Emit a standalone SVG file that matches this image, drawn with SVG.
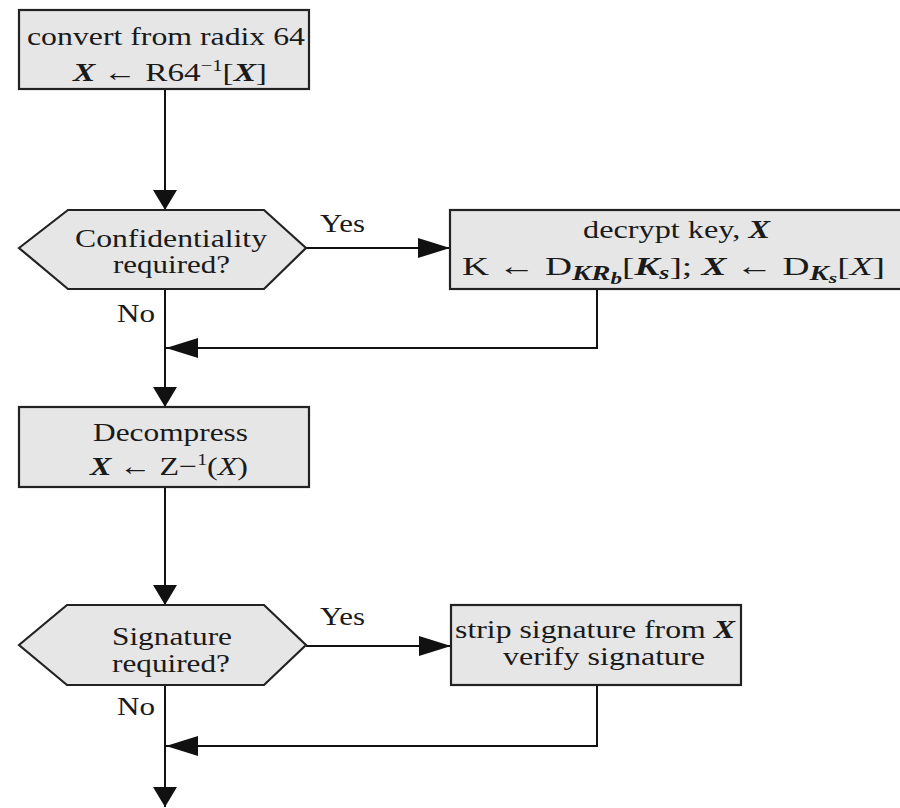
<svg xmlns="http://www.w3.org/2000/svg" width="900" height="808" viewBox="0 0 900 808">
<defs>
<style>
.box{fill:#e6e6e6;stroke:#222;stroke-width:2.2}
.ln{fill:none;stroke:#111;stroke-width:2}
text{font-family:"Liberation Serif","Times New Roman",serif;font-size:26px;fill:#1a1a1a}
.c{text-anchor:middle}
.bi{font-weight:bold;font-style:italic}
.it{font-style:italic}
</style>
<marker id="arrV" markerUnits="userSpaceOnUse" markerWidth="20" markerHeight="24" refX="20" refY="12" orient="auto" viewBox="0 0 20 24">
<path d="M0,0 L20,12 L0,24 z" fill="#111"/>
</marker>
<marker id="arrH" markerUnits="userSpaceOnUse" markerWidth="32" markerHeight="20" refX="32" refY="10" orient="auto" viewBox="0 0 32 20">
<path d="M0,0 L32,10 L0,20 z" fill="#111"/>
</marker>
</defs>
<rect width="900" height="808" fill="#fff"/>

<g id="connectors">
<path class="ln" d="M165,89 V210" marker-end="url(#arrV)"/>
<path class="ln" d="M306,248 H450" marker-end="url(#arrH)"/>
<path class="ln" d="M165,289 V407" marker-end="url(#arrV)"/>
<path class="ln" d="M597,289 V348 H166" marker-end="url(#arrH)"/>
<path class="ln" d="M165,487 V605" marker-end="url(#arrV)"/>
<path class="ln" d="M306,646 H451" marker-end="url(#arrH)"/>
<path class="ln" d="M165,685 V807" marker-end="url(#arrV)"/>
<path class="ln" d="M597,685 V746 H166" marker-end="url(#arrH)"/>
<text x="320" y="232" textLength="45" lengthAdjust="spacingAndGlyphs">Yes</text>
<text x="117" y="322" textLength="38" lengthAdjust="spacingAndGlyphs">No</text>
<text x="320" y="625" textLength="45" lengthAdjust="spacingAndGlyphs">Yes</text>
<text x="117" y="715" textLength="38" lengthAdjust="spacingAndGlyphs">No</text>
</g>

<g id="convert">
<rect class="box" x="19" y="10" width="290" height="79"/>
<text class="c" x="166" y="45" textLength="278" lengthAdjust="spacingAndGlyphs">convert from radix 64</text>
<text class="c" x="170" y="81" textLength="194" lengthAdjust="spacingAndGlyphs"><tspan class="bi">X</tspan> ← R64<tspan font-size="16" dy="-10">−1</tspan><tspan dy="10">[</tspan><tspan class="bi">X</tspan>]</text>
</g>

<g id="confidentiality">
<polygon class="box" points="19,248 68,210 264,210 306,248 264,289 68,289"/>
<text class="c" x="171" y="247" font-size="25" textLength="192" lengthAdjust="spacingAndGlyphs" style="font-size:25px">Confidentiality</text>
<text class="c" x="171.5" y="273" textLength="117" lengthAdjust="spacingAndGlyphs" style="font-size:25px">required?</text>
</g>

<g id="decrypt">
<rect class="box" x="450" y="210" width="470" height="79"/>
<text class="c" x="676.5" y="238" textLength="187" lengthAdjust="spacingAndGlyphs">decrypt key, <tspan class="bi">X</tspan></text>
<text class="c" x="673.5" y="275" textLength="423" lengthAdjust="spacingAndGlyphs">K ← D<tspan class="bi" font-size="20" dy="5">KR</tspan><tspan class="bi" font-size="16" dy="4">b</tspan><tspan dy="-9">[</tspan><tspan class="bi">K</tspan><tspan class="bi" font-size="18" dy="4">s</tspan><tspan dy="-4">]; </tspan><tspan class="bi">X</tspan> ← D<tspan class="bi" font-size="20" dy="5">K</tspan><tspan class="bi" font-size="15" dy="3">s</tspan><tspan dy="-8">[</tspan><tspan class="it">X</tspan>]</text>
</g>

<g id="decompress">
<rect class="box" x="19" y="407" width="290" height="80"/>
<text class="c" x="170.5" y="441" textLength="155" lengthAdjust="spacingAndGlyphs">Decompress</text>
<text class="c" x="169" y="475" textLength="158" lengthAdjust="spacingAndGlyphs"><tspan class="bi">X</tspan> ← Z−<tspan font-size="16" dy="-10">1</tspan><tspan dy="10">(</tspan><tspan class="it">X</tspan>)</text>
</g>

<g id="signature">
<polygon class="box" points="19,645 67,605 264,605 306,645 264,685 67,685"/>
<text class="c" x="172" y="645" textLength="120" lengthAdjust="spacingAndGlyphs">Signature</text>
<text class="c" x="171" y="672" textLength="118" lengthAdjust="spacingAndGlyphs">required?</text>
</g>

<g id="verify">
<rect class="box" x="451" y="605" width="290" height="80"/>
<text class="c" x="595" y="638" textLength="280" lengthAdjust="spacingAndGlyphs">strip signature from <tspan class="bi">X</tspan></text>
<text class="c" x="604" y="665" textLength="202" lengthAdjust="spacingAndGlyphs">verify signature</text>
</g>
</svg>
